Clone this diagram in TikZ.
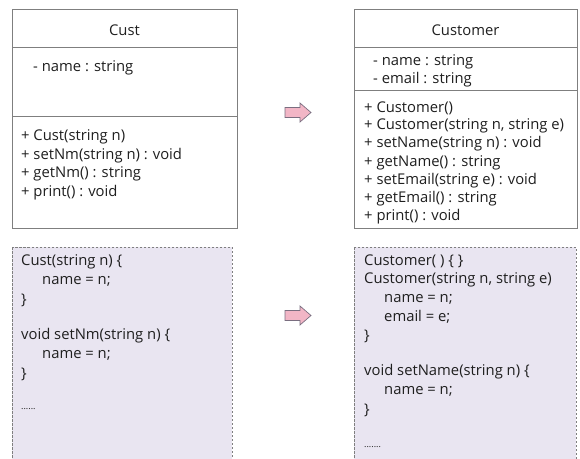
\documentclass[tikz,border=0pt]{standalone}
\usepackage{fontspec}
\setmainfont{Open Sans}
\definecolor{boxline}{HTML}{7F7F7F}
\definecolor{codefill}{HTML}{E9E5F1}
\definecolor{arrowfill}{HTML}{F2B6C6}
\definecolor{arrowline}{HTML}{7A6E80}
\begin{document}
\begin{tikzpicture}[x=1pt,y=-1pt,
  every node/.style={font=\fontsize{14.8}{18}\selectfont, inner sep=0pt, text=black!88},
  umlbox/.style={draw=boxline, line width=0.8pt, fill=white},
  codebox/.style={draw=boxline, line width=0.7pt, dash pattern=on 2.5pt off 1.5pt, fill=codefill},
  member/.style={anchor=west},
  fatarrow/.style={draw=arrowline, fill=arrowfill, line width=0.7pt, line join=miter}]
\useasboundingbox (0,0) rectangle (580,458);
\clip (0,0) rectangle (580,458);

% class Cust
\draw[umlbox] (12,9) rectangle (237,228);
\draw[boxline, line width=0.8pt] (12,47) -- (237,47) (12,116) -- (237,116);
\node (custname) at (124.5,30) {Cust};
\node[member] (custattr) at (33,68) {- name : string};
\node[member] (cm1) at (21,137) {+ Cust(string n)};
\node[member] (cm2) at (21,155.5) {+ setNm(string n) : void};
\node[member] (cm3) at (21,174) {+ getNm() : string};
\node[member] (cm4) at (21,192.5) {+ print() : void};

% class Customer
\draw[umlbox] (354,9) rectangle (577,228);
\draw[boxline, line width=0.8pt] (354,47) -- (577,47) (354,90) -- (577,90);
\node (customername) at (465.5,30) {Customer};
\node[member] (ca1) at (373,62) {- name : string};
\node[member] (ca2) at (373,80) {- email : string};
\node[member] (k1) at (364,108) {+ Customer()};
\node[member] (k2) at (364,126) {+ Customer(string n, string e)};
\node[member] (k3) at (364,144) {+ setName(string n) : void};
\node[member] (k4) at (364,162.5) {+ getName() : string};
\node[member] (k5) at (364,181) {+ setEmail(string e) : void};
\node[member] (k6) at (364,199) {+ getEmail() : string};
\node[member] (k7) at (364,217) {+ print() : void};

% code of Cust
\draw[codebox] (12,247) rectangle (232,470);
\node[member] at (21,262) {Cust(string n) \{};
\node[member] at (42,281) {name = n;};
\node[member] at (21,300) {\}};
\node[member] at (21,336) {void setNm(string n) \{};
\node[member] at (42,355) {name = n;};
\node[member] at (21,374) {\}};
\node[member] at (21,409) {\fontsize{9}{9}\selectfont ......};

% code of Customer
\draw[codebox] (354,247) rectangle (576,470);
\node[member] at (364,261) {Customer( ) \{ \}};
\node[member] at (364,280) {Customer(string n, string e)};
\node[member] at (384,299) {name = n;};
\node[member] at (384,317) {email = e;};
\node[member] at (364,336) {\}};
\node[member] at (364,372) {void setName(string n) \{};
\node[member] at (384,391) {name = n;};
\node[member] at (364,410) {\}};
\node[member] at (364,447) {\fontsize{9}{9}\selectfont .......};

% transformation arrows (block arrows drawn as outlines)
\foreach \cy in {112.5,315.5}
  \draw[fatarrow] (285,\cy-5) -- (300,\cy-5) -- (300,\cy-9.5) -- (311,\cy)
    -- (300,\cy+9.5) -- (300,\cy+5) -- (285,\cy+5) -- cycle;
\end{tikzpicture}
\end{document}
